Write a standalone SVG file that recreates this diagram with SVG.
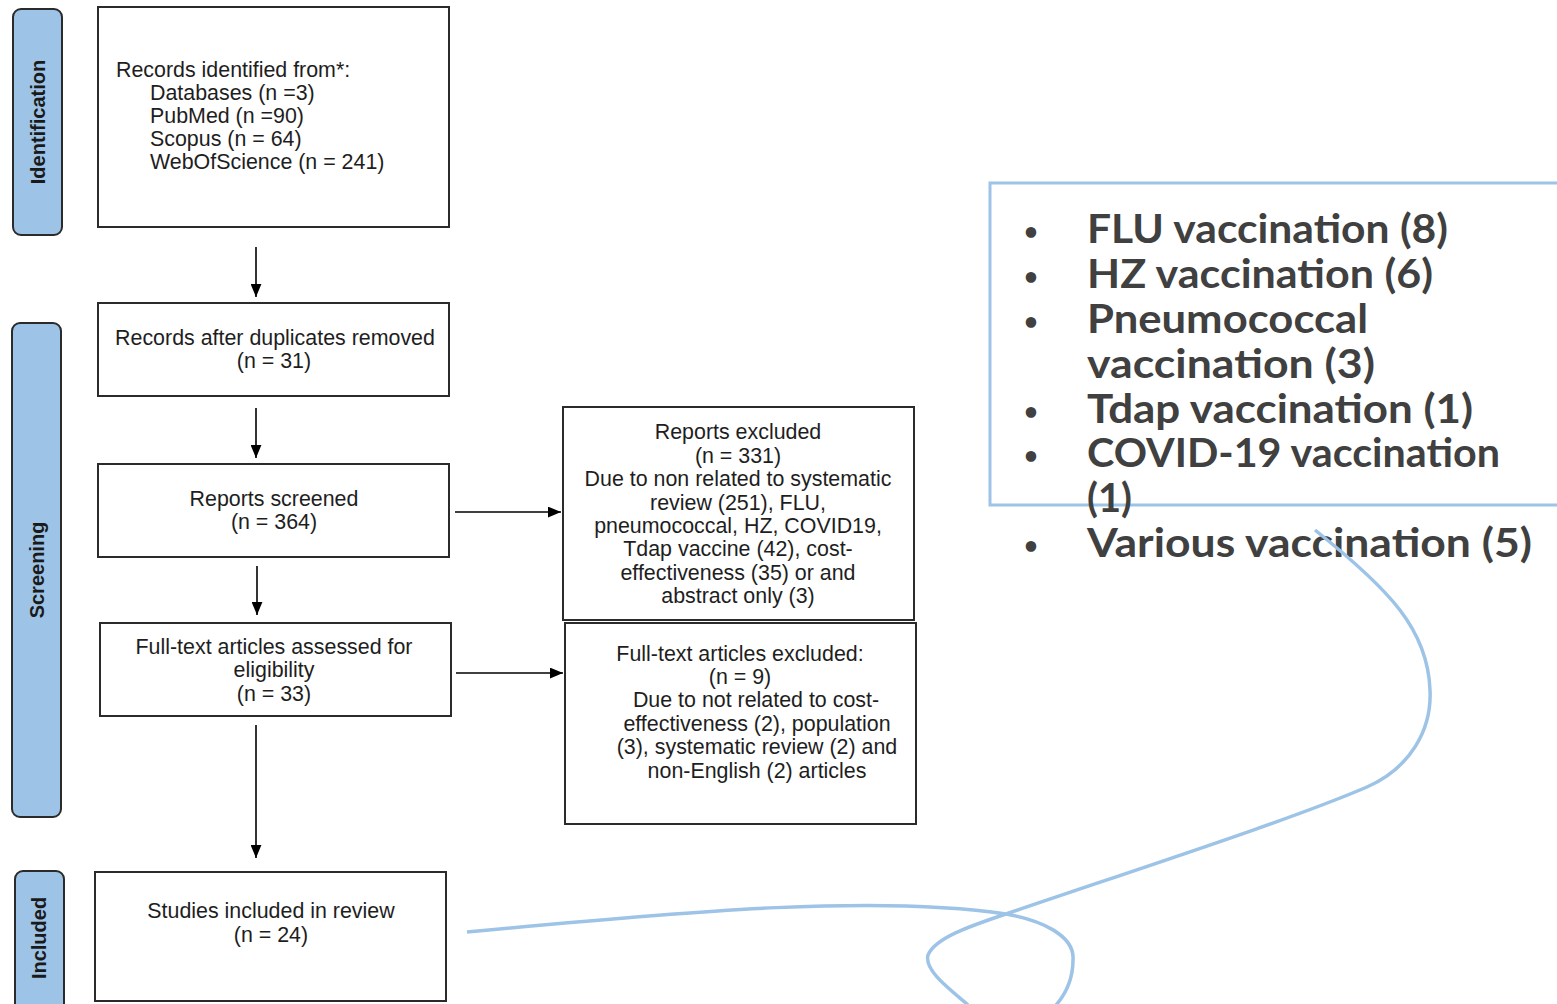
<svg xmlns="http://www.w3.org/2000/svg" width="1557" height="1004" viewBox="0 0 1557 1004">
<style>
.side{fill:#9dc3e6;stroke:#2b2b2b;stroke-width:2}
.sidet{font-family:"Liberation Sans",Arial,sans-serif;font-weight:bold;font-size:20px;fill:#1a1a1a;text-anchor:middle}
.box{fill:#fff;stroke:#2b2b2b;stroke-width:2}
.t{font-family:"Liberation Sans",Arial,sans-serif;font-size:21.4px;fill:#1e1e1e}
.c{text-anchor:middle}
.arr{stroke:#000;stroke-width:1.6;fill:none;marker-end:url(#ah)}
.li{font-family:Lato,"Open Sans",sans-serif;font-weight:bold;font-size:40px;fill:#404040}
.bul{font-family:Lato,"Open Sans",sans-serif;font-weight:bold;font-size:24px;fill:#404040;text-anchor:middle}
.blue{fill:none;stroke:#9dc3e6;stroke-width:3.5}
</style>
<defs>
<marker id="ah" viewBox="0 0 12 10" refX="12" refY="5" markerWidth="13" markerHeight="11" markerUnits="userSpaceOnUse" orient="auto">
<path d="M0,0 L12,5 L0,10 z" fill="#000"/>
</marker>
</defs>
<rect width="1557" height="1004" fill="#fff"/>

<g id="lbl-identification">
<rect class="side" x="13" y="9" width="49" height="226" rx="8"/>
<text class="sidet" transform="translate(45,122) rotate(-90)">Identification</text>
</g>
<g id="lbl-screening">
<rect class="side" x="12" y="323" width="49" height="494" rx="8"/>
<text class="sidet" transform="translate(44,570) rotate(-90)">Screening</text>
</g>
<g id="lbl-included">
<rect class="side" x="15" y="871" width="49" height="145" rx="8"/>
<text class="sidet" transform="translate(46,938) rotate(-90)">Included</text>
</g>

<g id="n-identified">
<rect class="box" x="98" y="7" width="351" height="220"/>
<text class="t" x="116" y="77">Records identified from*:</text>
<text class="t" x="150" y="100">Databases (n =3)</text>
<text class="t" x="150" y="123">PubMed (n =90)</text>
<text class="t" x="150" y="146">Scopus (n = 64)</text>
<text class="t" x="150" y="169">WebOfScience (n = 241)</text>
</g>
<g id="n-duplicates">
<rect class="box" x="98" y="303" width="351" height="93"/>
<text class="t c" x="275" y="345">Records after duplicates removed</text>
<text class="t c" x="274" y="368">(n = 31)</text>
</g>
<g id="n-screened">
<rect class="box" x="98" y="464" width="351" height="93"/>
<text class="t c" x="274" y="506">Reports screened</text>
<text class="t c" x="274" y="529">(n = 364)</text>
</g>
<g id="n-fulltext">
<rect class="box" x="100" y="623" width="351" height="93"/>
<text class="t c" x="274" y="654">Full-text articles assessed for</text>
<text class="t c" x="274" y="677">eligibility</text>
<text class="t c" x="274" y="701">(n = 33)</text>
</g>
<g id="n-included">
<rect class="box" x="95" y="872" width="351" height="129"/>
<text class="t c" x="271" y="918">Studies included in review</text>
<text class="t c" x="271" y="942">(n = 24)</text>
</g>
<g id="n-reports-excluded">
<rect class="box" x="563" y="407" width="351" height="213"/>
<text class="t c" x="738" y="439">Reports excluded</text>
<text class="t c" x="738" y="463">(n = 331)</text>
<text class="t c" x="738" y="486">Due to non related to systematic</text>
<text class="t c" x="738" y="510">review (251), FLU,</text>
<text class="t c" x="738" y="533">pneumococcal, HZ, COVID19,</text>
<text class="t c" x="738" y="556">Tdap vaccine (42), cost-</text>
<text class="t c" x="738" y="580">effectiveness (35) or and</text>
<text class="t c" x="738" y="603">abstract only (3)</text>
</g>
<g id="n-fulltext-excluded">
<rect class="box" x="565" y="623" width="351" height="201"/>
<text class="t c" x="740" y="661">Full-text articles excluded:</text>
<text class="t c" x="740" y="684">(n = 9)</text>
<text class="t c" x="756" y="707">Due to not related to cost-</text>
<text class="t c" x="757" y="731">effectiveness (2), population</text>
<text class="t c" x="757" y="754">(3), systematic review (2) and</text>
<text class="t c" x="757" y="778">non-English (2) articles</text>
</g>

<g id="connectors">
<line class="arr" x1="256" y1="247" x2="256" y2="297"/>
<line class="arr" x1="256" y1="408" x2="256" y2="458"/>
<line class="arr" x1="257" y1="566" x2="257" y2="615"/>
<line class="arr" x1="256" y1="725" x2="256" y2="858"/>
<line class="arr" x1="455" y1="512" x2="561" y2="512"/>
<line class="arr" x1="456" y1="673" x2="563" y2="673"/>
</g>

<g id="n-list">
<rect x="990" y="183" width="590" height="322" fill="none" stroke="#9dc3e6" stroke-width="3"/>
<text class="bul" x="1031" y="240">•</text>
<text class="li" x="1087" y="243" textLength="361" lengthAdjust="spacingAndGlyphs">FLU vaccination (8)</text>
<text class="bul" x="1031" y="285">•</text>
<text class="li" x="1087" y="288" textLength="346" lengthAdjust="spacingAndGlyphs">HZ vaccination (6)</text>
<text class="bul" x="1031" y="330">•</text>
<text class="li" x="1087" y="333" textLength="281" lengthAdjust="spacingAndGlyphs">Pneumococcal</text>
<text class="li" x="1087" y="378" textLength="288" lengthAdjust="spacingAndGlyphs">vaccination (3)</text>
<text class="bul" x="1031" y="420">•</text>
<text class="li" x="1087" y="423" textLength="386" lengthAdjust="spacingAndGlyphs">Tdap vaccination (1)</text>
<text class="bul" x="1031" y="464">•</text>
<text class="li" x="1087" y="467" textLength="413" lengthAdjust="spacingAndGlyphs">COVID-19 vaccination</text>
<text class="li" x="1087" y="512" textLength="45" lengthAdjust="spacingAndGlyphs">(1)</text>
<text class="bul" x="1031" y="554">•</text>
<text class="li" x="1087" y="557" textLength="445" lengthAdjust="spacingAndGlyphs">Various vaccination (5)</text>
</g>

<g id="scribble">
<path class="blue" d="M467,932 C700,910 880,895 1006,914 C1040,920 1075,935 1073,960 C1073,985 1060,1005 1040,1020 C1010,1042 985,1030 967,1004 C948,988 924,970 928,955 C935,938 970,926 1006,914 C1150,865 1290,820 1367,787 C1410,768 1432,730 1430,690 C1428,630 1390,590 1315,530"/>
</g>
</svg>
